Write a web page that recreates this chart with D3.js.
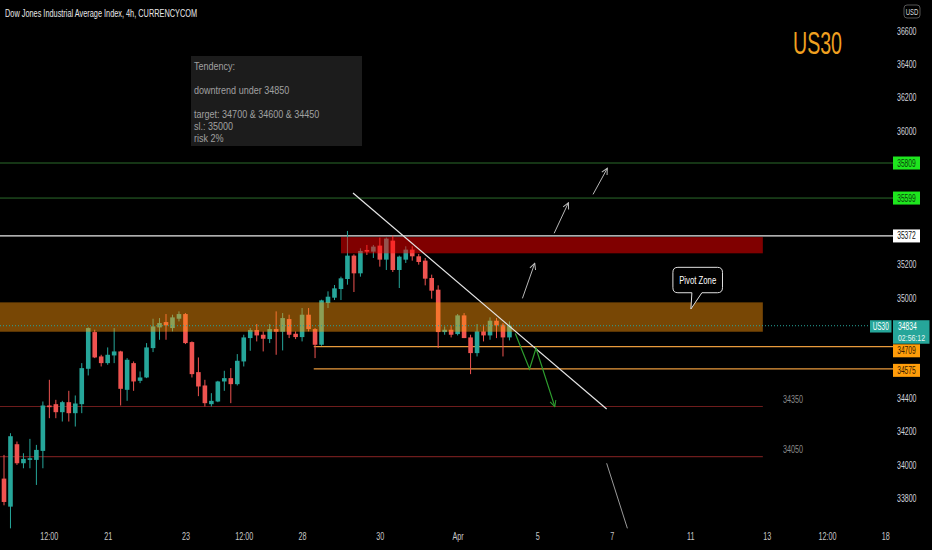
<!DOCTYPE html>
<html><head><meta charset="utf-8">
<script src="https://cdn.jsdelivr.net/npm/d3@7"></script>
<style>
html,body{margin:0;padding:0;background:#000;overflow:hidden}
text{font-family:"Liberation Sans","Roboto",sans-serif}
</style>
</head><body>
<svg id="c" width="932" height="550"></svg>
<script>
// ---------- data ----------
const opens  = [33918,33750,34124,34010,34030,34030,34084,34356,34364,34316,34376,34310,34364,34576,34796,34650,34610,34656,34680,34450,
                34610,34504,34524,34700,34824,34856,34820,34876,34904,34736,34556,34476,34364,34380,34500,34520,34484,34620,34760,34808,
                34780,34754,34814,34798,34874,34786,34766,34900,34814,34720,34970,35002,35054,35114,35254,35148,35288,35278,35314,35230,
                35344,35168,35230,35290,35250,35224,35120,35050,34796,34810,34784,34896,34764,34670,34800,34776,34864,34840,34764];
const highs  = [34060,34190,34140,34070,34156,34120,34380,34510,34390,34384,34444,34416,34610,34824,34810,34660,34704,34820,34684,34640,
                34620,34560,34730,34876,34880,34904,34900,34920,34910,34740,34644,34510,34430,34504,34564,34580,34664,34780,34820,34844,
                34800,34844,34920,34910,34900,34800,34940,34940,34820,34990,35040,35078,35128,35402,35262,35298,35318,35318,35362,35362,
                35374,35254,35310,35310,35264,35240,35140,35076,34830,34836,34904,34910,34780,34844,34840,34884,34880,34850,34860];
const lows   = [33758,33620,34000,33980,33980,33880,33980,34280,34280,34260,34260,34230,34310,34536,34640,34590,34600,34610,34356,34384,
                34444,34490,34520,34676,34750,34750,34800,34860,34724,34524,34412,34350,34350,34376,34444,34370,34476,34590,34684,34740,
                34680,34730,34660,34686,34760,34754,34740,34800,34640,34714,34940,34988,34988,35080,35036,35128,35258,35240,35188,35168,
                35156,35060,35210,35224,35200,35076,34996,34700,34780,34764,34776,34760,34544,34650,34740,34750,34760,34650,34746];
const closes = [33778,34172,34010,34036,34040,34090,34356,34346,34316,34376,34310,34368,34580,34820,34644,34610,34660,34680,34456,34630,
                34500,34524,34704,34830,34850,34836,34884,34904,34730,34544,34470,34370,34384,34500,34520,34484,34624,34764,34808,34776,
                34756,34814,34798,34880,34780,34766,34900,34814,34720,34986,35008,35058,35118,35254,35148,35282,35278,35308,35230,35356,
                35168,35248,35290,35250,35216,35116,35044,34796,34810,34780,34896,34760,34670,34800,34776,34864,34836,34764,34834];

const priceTicks = [33800,34000,34200,34400,34600,34800,35000,35200,35400,35600,35800,36000,36200,36400,36600];
const timeIdx    = [6.9,16,28,37,46,58,70,82.3,93.8,105.9,117.7,127,136];
const timeLabels = ["12:00","21","23","12:00","28","30","Apr","5","7","11","13","12:00","18"];

const greenLevels  = [35809,35599];
const whiteLevel   = 35372;
const orangeLevels = [34709,34575];
const redLevels    = [34350,34050];
const lastPrice    = 34834;
const countdown    = "02:56:12";
const pivotZone    = [34798,34974];
const supplyZone   = [35268,35365];
const trendLine    = [[53.86,35629],[93.0,34335]];
const upArrows     = [[[80.0,34998],[81.9,35208]],[[84.9,35388],[87.1,35571]],[[90.9,35621],[93.1,35777]]];
const downPath     = [[78.9,34788],[81.1,34575],[82.1,34699],[85.0,34349]];
const longLine     = [[93.0,34010],[96.2,33620]];
const pivotAnchor  = [106.0,34934];
const noteLines    = ["Tendency:","","downtrend under 34850","","target: 34700 & 34600 & 34450","sl.: 35000","risk 2%"];

// ---------- helpers ----------
function squeeze(sel, k){ sel.each(function(){ const w=this.getComputedTextLength(); if(w>0){ this.setAttribute("textLength", w*k); this.setAttribute("lengthAdjust","spacingAndGlyphs"); } }); return sel; }
function fitW(sel, w){ sel.attr("textLength", w).attr("lengthAdjust","spacingAndGlyphs"); return sel; }

// ---------- scales ----------
const svg = d3.select("#c");
const x = d3.scaleLinear().domain([0,136]).range([4,885.3]);
const y = d3.scaleLinear().domain([33800,36600]).range([498.3,31]);
const axisX = 893, zoneEnd = 117.1, plotLeft = 0;

svg.append("rect").attr("width",932).attr("height",550).attr("fill","#000");

// level lines
const g = svg.append("g");
g.selectAll(".gl").data(greenLevels).join("line")
  .attr("x1",plotLeft).attr("x2",axisX).attr("y1",d=>y(d)).attr("y2",d=>y(d))
  .attr("stroke","#2b6a2b").attr("stroke-width",1);
g.append("line").attr("x1",plotLeft).attr("x2",axisX).attr("y1",y(whiteLevel)).attr("y2",y(whiteLevel))
  .attr("stroke","#e8e8e8").attr("stroke-width",1.2);
g.selectAll(".ol").data(orangeLevels).join("line")
  .attr("x1",x(47.8)).attr("x2",axisX).attr("y1",d=>y(d)).attr("y2",d=>y(d))
  .attr("stroke","#e89a3c").attr("stroke-width",1.2);
g.selectAll(".rl").data(redLevels).join("line")
  .attr("x1",plotLeft).attr("x2",x(zoneEnd)).attr("y1",d=>y(d)).attr("y2",d=>y(d))
  .attr("stroke","#6e1c1c").attr("stroke-width",1.2);
fitW(g.selectAll(".rlt").data(redLevels).join("text")
  .attr("x",x(120.2)).attr("y",d=>y(d)-4).text(d=>d)
  .attr("fill","#8a8a8a").attr("font-size",10), 20);

// candles
const idx = d3.range(opens.length);
const up = i => closes[i] >= opens[i];
const cg = svg.append("g");
cg.selectAll("line").data(idx).join("line")
  .attr("x1",i=>x(i)).attr("x2",i=>x(i)).attr("y1",i=>y(highs[i])).attr("y2",i=>y(lows[i]))
  .attr("stroke",i=>up(i)?"#26a69a":"#ef5350").attr("stroke-width",1);
cg.selectAll("rect").data(idx).join("rect")
  .attr("x",i=>x(i)-2.3).attr("width",4.6)
  .attr("y",i=>y(Math.max(opens[i],closes[i])))
  .attr("height",i=>Math.max(1,Math.abs(y(opens[i])-y(closes[i]))))
  .attr("fill",i=>up(i)?"#26a69a":"#ef5350");

// zones
svg.append("rect").attr("x",plotLeft).attr("width",x(zoneEnd)-plotLeft)
  .attr("y",y(pivotZone[1])).attr("height",y(pivotZone[0])-y(pivotZone[1]))
  .attr("fill","rgb(255,150,10)").attr("fill-opacity",0.47);
svg.append("rect").attr("x",x(52)).attr("width",x(zoneEnd)-x(52))
  .attr("y",y(supplyZone[1])).attr("height",y(supplyZone[0])-y(supplyZone[1]))
  .attr("fill","rgb(255,0,0)").attr("fill-opacity",0.5);

// last price dotted line
svg.append("line").attr("x1",plotLeft).attr("x2",870).attr("y1",y(lastPrice)).attr("y2",y(lastPrice))
  .attr("stroke","#26a69a").attr("stroke-width",1).attr("stroke-dasharray","1,2");

// markers
const defs = svg.append("defs");
function mk(id,color){
  defs.append("marker").attr("id",id).attr("viewBox","0 0 8 8").attr("refX",7).attr("refY",4)
    .attr("markerWidth",8).attr("markerHeight",8).attr("markerUnits","userSpaceOnUse").attr("orient","auto")
    .append("path").attr("d","M1,1 L7,4 L1,7").attr("fill","none").attr("stroke",color).attr("stroke-width",1);
}
mk("ag","#bdbdbd"); mk("agr","#2e9e2e");
const line = d3.line().x(d=>x(d[0])).y(d=>y(d[1]));

svg.append("path").attr("d",line(trendLine)).attr("stroke","#e6e6e6").attr("stroke-width",1.2).attr("fill","none");
svg.selectAll(".ua").data(upArrows).join("path").attr("d",d=>line(d))
  .attr("stroke","#b8b8b8").attr("stroke-width",1).attr("fill","none").attr("marker-end","url(#ag)");
svg.append("path").attr("d",line(downPath)).attr("stroke","#2e9e2e").attr("stroke-width",1.2)
  .attr("fill","none").attr("marker-end","url(#agr)");
svg.append("path").attr("d",line(longLine)).attr("stroke","#9a9a9a").attr("stroke-width",1).attr("fill","none");

// pivot callout
{
  const ax = x(pivotAnchor[0]), ay = y(pivotAnchor[1]);
  const L = ax-18, R = ax+31.6, T = ay-41.7, B = ay-16.3, r = 5;
  const p = `M${L+r},${T} H${R-r} Q${R},${T} ${R},${T+r} V${B-r} Q${R},${B} ${R-r},${B} H${ax+11} L${ax},${ay} L${ax+1},${B} H${L+r} Q${L},${B} ${L},${B-r} V${T+r} Q${L},${T} ${L+r},${T} Z`;
  svg.append("path").attr("d",p).attr("fill","#000").attr("stroke","#e0e0e0").attr("stroke-width",1);
  fitW(svg.append("text").attr("x",(L+R)/2).attr("y",(T+B)/2+3.5).attr("text-anchor","middle")
    .attr("fill","#fff").attr("font-size",10).text("Pivot Zone"), 37);
}

// note box
svg.append("rect").attr("x",191).attr("y",56).attr("width",171).attr("height",90).attr("fill","#1c1c1c");
squeeze(svg.selectAll(".nt").data(noteLines).join("text")
  .attr("x",194).attr("y",(d,i)=>[70,82,94,106,118,130,142][i]).text(d=>d)
  .attr("fill","#a0a0a0").attr("font-size",11), 0.82);

// title
fitW(svg.append("text").attr("x",5).attr("y",17).attr("fill","#e8e8e8").attr("font-size",10.5)
  .text("Dow Jones Industrial Average Index, 4h, CURRENCYCOM"), 192);
fitW(svg.append("text").attr("x",793).attr("y",54).attr("fill","#f0a020").attr("font-size",32)
  .text("US30"), 49);

// badge spans (for hiding covered tick labels)
const lpY = y(lastPrice);
const spans = [[y(greenLevels[0])-6.5,y(greenLevels[0])+6.5],[y(greenLevels[1])-6.5,y(greenLevels[1])+6.5],
  [y(whiteLevel)-6.5,y(whiteLevel)+6.5],[lpY-5.5,lpY+18],[y(orangeLevels[0])-2.3,y(orangeLevels[0])+10.7],
  [y(orangeLevels[1])-5.1,y(orangeLevels[1])+7.9]];
const visTicks = priceTicks.filter(v=>!spans.some(s=>y(v)+5>s[0] && y(v)-5<s[1]));

// right axis
const ya = svg.append("g").attr("transform",`translate(${axisX},0)`)
  .call(d3.axisRight(y).tickValues(visTicks).tickSize(0).tickPadding(4).tickFormat(d3.format("d")));
ya.select(".domain").remove();
fitW(ya.selectAll("text").attr("fill","#d1d4dc").attr("font-size",10), 19.5);

// bottom axis
const xa = svg.append("g").attr("transform","translate(0,530)")
  .call(d3.axisBottom(x).tickValues(timeIdx).tickSize(0).tickPadding(3).tickFormat((d,i)=>timeLabels[i]));
xa.select(".domain").remove();
squeeze(xa.selectAll("text").attr("fill","#c8c8c8").attr("font-size",10), 0.72);

// USD
svg.append("rect").attr("x",904).attr("y",5).attr("width",16).attr("height",13).attr("rx",3)
  .attr("fill","#000").attr("stroke","#555");
fitW(svg.append("text").attr("x",912).attr("y",15).attr("text-anchor","middle").attr("fill","#ddd").attr("font-size",8.5).text("USD"), 12.6);

// badges
function badge(val, yc, fill, tcol){
  svg.append("rect").attr("x",axisX).attr("y",yc-6.5).attr("width",27).attr("height",13).attr("fill",fill);
  fitW(svg.append("text").attr("x",axisX+13.5).attr("y",yc+3.5).attr("text-anchor","middle")
    .attr("fill",tcol).attr("font-size",10).text(val), 18.7);
}
greenLevels.forEach(v=>badge(v,y(v),"#1ee61e","#0b3d0b"));
badge(whiteLevel,y(whiteLevel),"#ffffff","#111");
badge(orangeLevels[0],y(orangeLevels[0])+4.2,"#ff9d0a","#3a2000");
badge(orangeLevels[1],y(orangeLevels[1])+1.4,"#ff9d0a","#3a2000");
// last price badge
{
  const yc = lpY;
  svg.append("rect").attr("x",870).attr("y",yc-5.5).attr("width",21.5).attr("height",12.3).attr("fill","#26a69a");
  fitW(svg.append("text").attr("x",880.7).attr("y",yc+4.2).attr("text-anchor","middle").attr("fill","#fff").attr("font-size",10).text("US30"), 16);
  svg.append("rect").attr("x",axisX).attr("y",yc-5.5).attr("width",36.5).attr("height",23.5).attr("fill","#26a69a");
  fitW(svg.append("text").attr("x",axisX+5).attr("y",yc+4.2).attr("fill","#fff").attr("font-size",10).text(lastPrice), 18.7);
  fitW(svg.append("text").attr("x",axisX+32).attr("y",yc+15.5).attr("text-anchor","end").attr("fill","#e8f6f4").attr("font-size",9).text(countdown), 27);
}
</script>
</body></html>
